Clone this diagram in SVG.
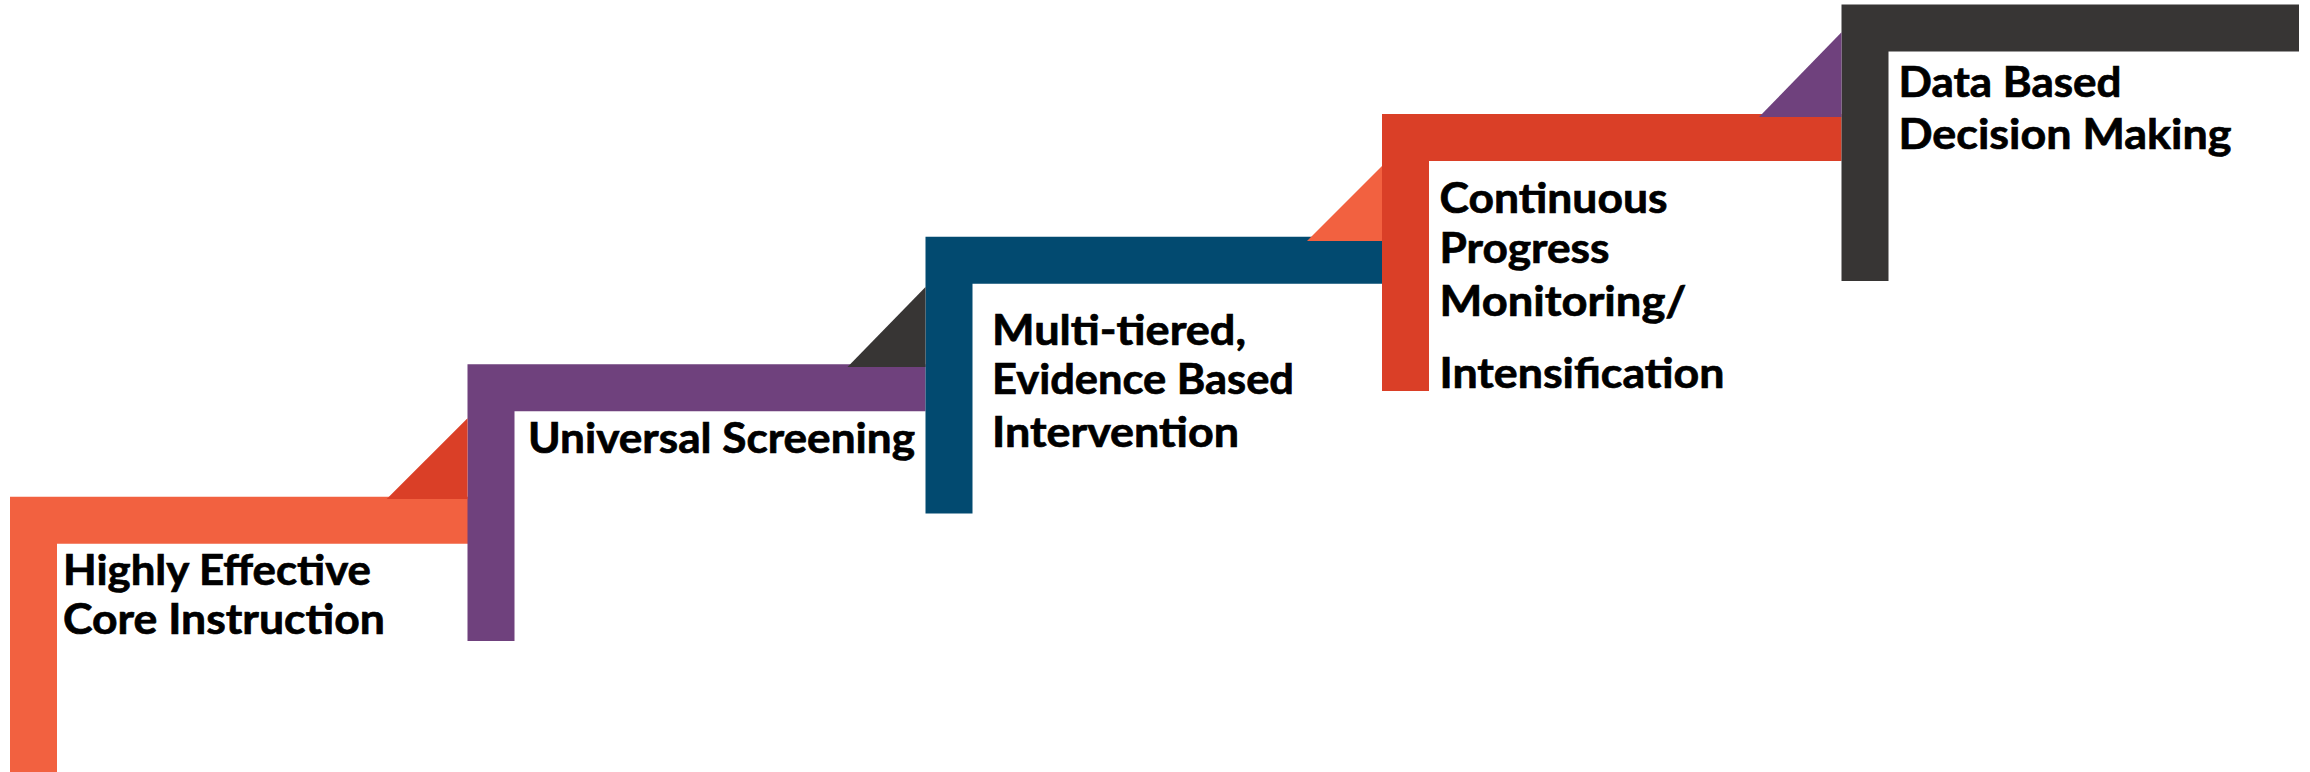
<svg xmlns="http://www.w3.org/2000/svg" width="2310" height="772" viewBox="0 0 2310 772">
  <style>
    .label { font-family: Lato, "Open Sans", "Liberation Sans", sans-serif; font-weight: 700; font-size: 42px; fill: #000000; stroke: #000000; stroke-width: 0.7px; }
    .c-orange { fill: #F26140; }
    .c-purple { fill: #6F417D; }
    .c-blue { fill: #024A70; }
    .c-red { fill: #DA3F27; }
    .c-dark { fill: #373534; }
  </style>
  <rect x="0" y="0" width="2310" height="772" fill="#FFFFFF"/>

  <!-- step 1 -->
  <g id="step-1">
    <path class="c-orange" d="M10,496.7 H468 V543.7 H57 V780 H10 Z"/>
    <text class="label" x="63" y="585" textLength="308" lengthAdjust="spacingAndGlyphs">Highly Effective</text>
    <text class="label" x="63" y="634" textLength="322" lengthAdjust="spacingAndGlyphs">Core Instruction</text>
  </g>

  <!-- step 2 -->
  <g id="step-2">
    <path class="c-purple" d="M467.5,364.3 H925.5 V411.3 H514.5 V641 H467.5 Z"/>
    <text class="label" x="528" y="453.3" textLength="387" lengthAdjust="spacingAndGlyphs">Universal Screening</text>
  </g>

  <!-- step 3 -->
  <g id="step-3">
    <path class="c-blue" d="M925.5,236.7 H1382 V283.7 H972.5 V513.5 H925.5 Z"/>
    <text class="label" x="992" y="345" textLength="254" lengthAdjust="spacingAndGlyphs">Multi-tiered,</text>
    <text class="label" x="992" y="394" textLength="302" lengthAdjust="spacingAndGlyphs">Evidence Based</text>
    <text class="label" x="992" y="446.5" textLength="247" lengthAdjust="spacingAndGlyphs">Intervention</text>
  </g>

  <!-- step 4 -->
  <g id="step-4">
    <path class="c-red" d="M1382,114 H1841.5 V161 H1429 V391 H1382 Z"/>
    <text class="label" x="1439.5" y="212.7" textLength="228" lengthAdjust="spacingAndGlyphs">Continuous</text>
    <text class="label" x="1439.5" y="263.3" textLength="170" lengthAdjust="spacingAndGlyphs">Progress</text>
    <text class="label" x="1439.5" y="316" textLength="247" lengthAdjust="spacingAndGlyphs">Monitoring/</text>
    <text class="label" x="1439.5" y="388.3" textLength="285" lengthAdjust="spacingAndGlyphs">Intensification</text>
  </g>

  <!-- step 5 -->
  <g id="step-5">
    <path class="c-dark" d="M1841.5,4.4 H2299 V51.4 H1888.5 V281 H1841.5 Z"/>
    <text class="label" x="1898.5" y="97.3" textLength="223" lengthAdjust="spacingAndGlyphs">Data Based</text>
    <text class="label" x="1898.5" y="149.3" textLength="333" lengthAdjust="spacingAndGlyphs">Decision Making</text>
  </g>

  <!-- folded joints linking each step to the next -->
  <g id="connectors">
    <polygon class="c-red" points="386.7,499 467.5,499 467.5,418.3"/>
    <polygon class="c-dark" points="847.5,367 925.5,367 925.5,287"/>
    <polygon class="c-orange" points="1307,241 1382,241 1382,166"/>
    <polygon class="c-purple" points="1759,117 1841.5,117 1841.5,32.3"/>
  </g>
</svg>
